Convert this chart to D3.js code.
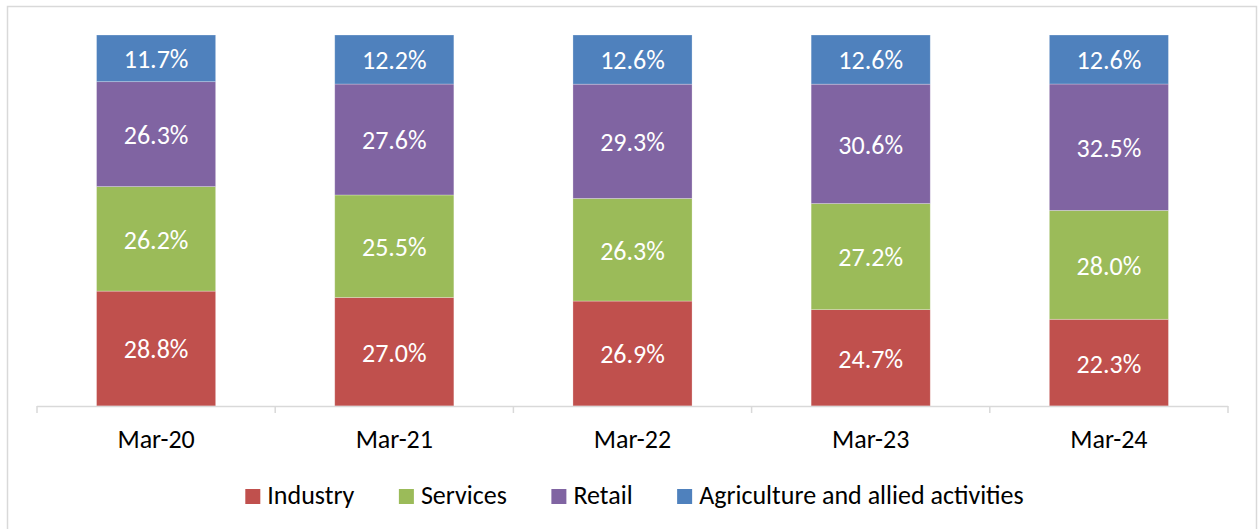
<!DOCTYPE html>
<html lang="en">
<head>
  <meta charset="utf-8">
  <title>Sector share</title>
  <script src="https://d3js.org/d3.v7.min.js"></script>
  <style>
    body { margin: 0; background: #fff; }
    #chart text { font-family: Calibri, Carlito, Lato, sans-serif; font-size: 26px; }
  </style>
</head>
<body>
  <div id="chart"></div>

  <script>
    "use strict"

    // data
    const categorias = ["Mar-20", "Mar-21", "Mar-22", "Mar-23", "Mar-24"];
    const setores = ["Industry", "Services", "Retail", "Agriculture and allied activities"];
    const industry    = [28.8, 27.0, 26.9, 24.7, 22.3];
    const services    = [26.2, 25.5, 26.3, 27.2, 28.0];
    const retail      = [26.3, 27.6, 29.3, 30.6, 32.5];
    const agriculture = [11.7, 12.2, 12.6, 12.6, 12.6];
    const cores = ["#C0504D", "#9BBB59", "#8064A2", "#4F81BD"];

    const larguraSVG = 1259, alturaSVG = 529;
    const margin = {top: 35, left: 37, right: 31, bottom: 123};
    const larguraVis = larguraSVG - margin.left - margin.right,
          alturaVis = alturaSVG - margin.top - margin.bottom;

    const series = [industry, services, retail, agriculture];
    const tabela = categorias.map((c, i) => {
      const linha = {cat: c};
      setores.forEach((s, j) => linha[s] = series[j][i]);
      return linha;
    });

    const svg = d3.select('#chart').append('svg')
      .attr('width', larguraSVG)
      .attr('height', alturaSVG);

    // moldura cinza
    svg.append('rect')
      .attr('x', 7.5).attr('y', 6.5)
      .attr('width', 1249).attr('height', 530)
      .attr('fill', 'none')
      .attr('stroke', '#d9d9d9')
      .attr('stroke-width', 1.5);

    const g = svg.append('g')
      .attr('transform', 'translate(' + margin.left + ',' + margin.top + ')');

    const x = d3.scaleBand()
      .domain(categorias)
      .range([0, larguraVis])
      .paddingInner(0.5)
      .paddingOuter(0.25);

    const y = d3.scaleLinear()
      .domain([0, 1])
      .range([alturaVis, 0]);

    const pilha = d3.stack()
      .keys(setores)
      .offset(d3.stackOffsetExpand)(tabela);

    const grupos = g.selectAll('g.serie')
      .data(pilha)
      .enter().append('g')
        .attr('class', 'serie')
        .attr('fill', (d, i) => cores[i]);

    grupos.selectAll('rect')
      .data(d => d)
      .enter().append('rect')
        .attr('x', d => x(d.data.cat))
        .attr('y', d => y(d[1]))
        .attr('width', x.bandwidth())
        .attr('height', d => y(d[0]) - y(d[1]))
        .attr('stroke', 'rgba(255,255,255,0.35)')
        .attr('stroke-width', 0.75);

    grupos.each(function (serie) {
      d3.select(this).selectAll('text')
        .data(serie)
        .enter().append('text')
          .attr('x', d => x(d.data.cat) + x.bandwidth() / 2)
          .attr('y', d => (y(d[0]) + y(d[1])) / 2)
          .attr('dy', '0.38em')
          .attr('text-anchor', 'middle')
          .attr('fill', '#fff')
          .text(d => d.data[serie.key].toFixed(1) + '%');
    });

    // eixo x com marcas entre categorias
    const eixo = g.append('g')
      .attr('transform', 'translate(0,' + alturaVis + ')');
    eixo.append('line')
      .attr('x1', 0).attr('x2', larguraVis)
      .attr('y1', 0.5).attr('y2', 0.5)
      .attr('stroke', '#d9d9d9').attr('stroke-width', 1.5);
    const passo = x.step();
    eixo.selectAll('line.tick')
      .data(d3.range(categorias.length + 1))
      .enter().append('line')
        .attr('class', 'tick')
        .attr('x1', i => i * passo).attr('x2', i => i * passo)
        .attr('y1', 0).attr('y2', 7)
        .attr('stroke', '#d9d9d9').attr('stroke-width', 1.5);
    eixo.selectAll('text')
      .data(categorias)
      .enter().append('text')
        .attr('x', d => x(d) + x.bandwidth() / 2)
        .attr('y', 42)
        .attr('text-anchor', 'middle')
        .attr('fill', '#000')
        .text(d => d);

    // legenda
    const legenda = svg.append('g');
    const itens = legenda.selectAll('g')
      .data(setores)
      .enter().append('g');
    itens.append('rect')
      .attr('width', 15).attr('height', 15)
      .attr('y', 489)
      .attr('fill', (d, i) => cores[i]);
    itens.append('text')
      .attr('x', 22)
      .attr('y', 504)
      .attr('fill', '#000')
      .text(d => d);

    const espaco = 44.5;
    let pos = 0;
    const offsets = [];
    itens.each(function () {
      offsets.push(pos);
      pos += 22 + this.querySelector('text').getComputedTextLength() + espaco;
    });
    const total = pos - espaco;
    const inicio = 634.5 - total / 2;
    itens.attr('transform', (d, i) => 'translate(' + (inicio + offsets[i]) + ',0)');
  </script>
</body>
</html>
